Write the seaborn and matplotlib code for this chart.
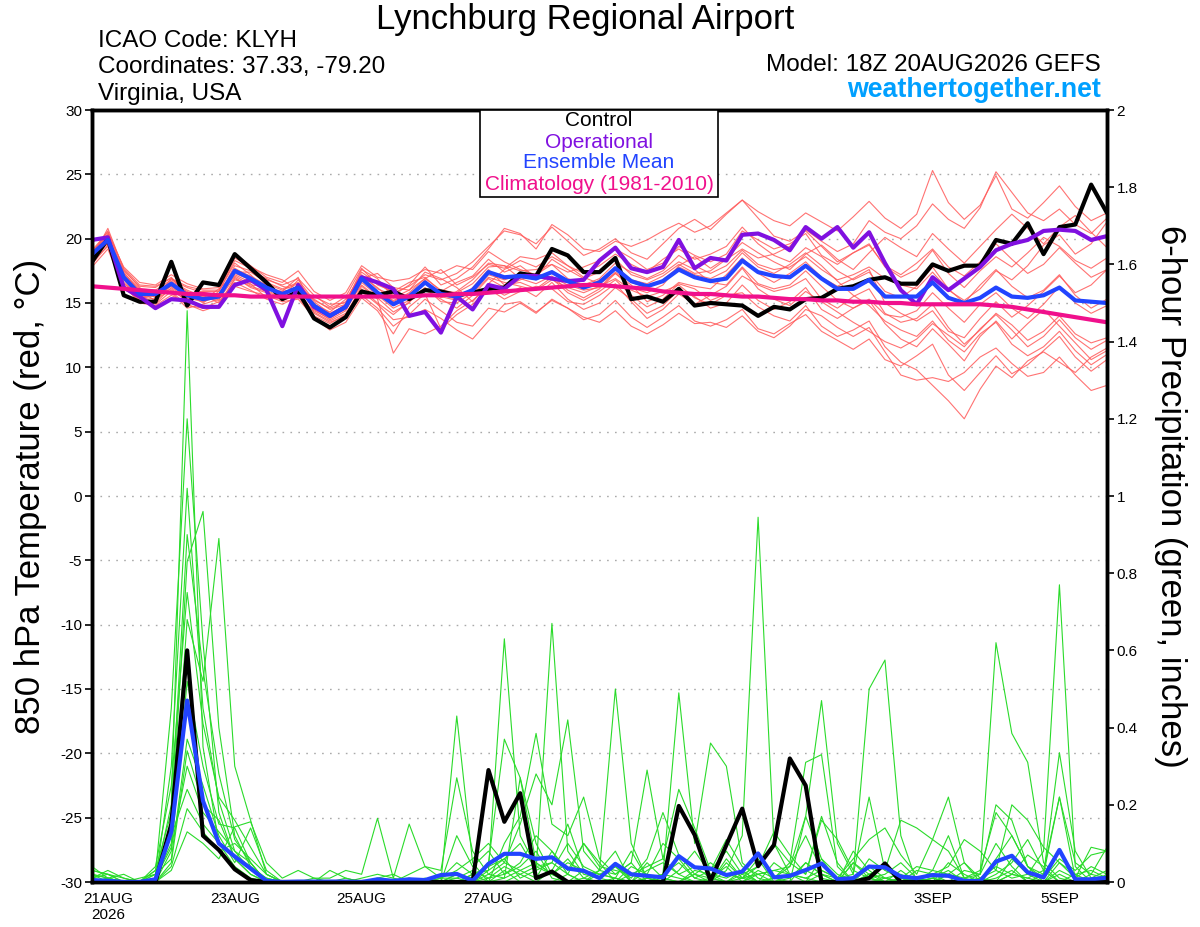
import numpy as np
import pandas as pd
import seaborn as sns
import matplotlib.pyplot as plt
from matplotlib.patches import Rectangle

sns.set_style("ticks")
plt.rcParams["font.family"] = ["Liberation Sans", "DejaVu Sans"]
plt.rcParams["axes.unicode_minus"] = False
plt.rcParams["text.color"] = "black"
plt.rcParams["xtick.color"] = "black"
plt.rcParams["ytick.color"] = "black"

# 6-hourly steps of the 18Z 20AUG2026 run
times = pd.date_range("2026-08-20 18:00", periods=65, freq="6h")

tick_dates = pd.to_datetime(["2026-08-21", "2026-08-23", "2026-08-25", "2026-08-27",
                             "2026-08-29", "2026-09-01", "2026-09-03", "2026-09-05"])
tick_labels = ["21AUG\n2026", "23AUG", "25AUG", "27AUG", "29AUG", "1SEP", "3SEP", "5SEP"]

# 850 hPa temperature (C)
control_temp = [18.2, 20.0, 15.6, 15.1, 15.1, 18.2, 14.8, 16.6, 16.4, 18.8, 17.7, 16.6, 15.3,
                15.9, 13.8, 13.1, 13.9, 15.9, 15.6, 15.9, 15.3, 16.0, 15.9, 15.6, 15.8, 16.1,
                16.2, 17.3, 17.1, 19.2, 18.7, 17.4, 17.4, 18.5, 15.3, 15.5, 15.1, 16.1, 14.8,
                15.0, 14.9, 14.8, 14.0, 14.7, 14.5, 15.3, 15.4, 16.1, 16.3, 16.8, 17.0, 16.5,
                16.5, 18.0, 17.5, 17.9, 17.9, 19.9, 19.6, 21.2, 18.8, 20.9, 21.1, 24.2, 22.0]
oper_temp = [19.9, 20.1, 16.2, 15.5, 14.6, 15.3, 15.2, 14.7, 14.7, 16.4, 16.8, 16.0, 13.2,
             16.4, 14.7, 14.0, 14.7, 17.0, 16.6, 16.1, 14.0, 14.3, 12.7, 15.5, 14.5, 16.4,
             16.1, 17.1, 17.1, 16.9, 16.7, 16.8, 18.3, 19.3, 17.7, 17.4, 17.8, 19.9, 17.7,
             18.5, 18.3, 20.3, 20.4, 19.9, 19.1, 20.9, 20.0, 20.9, 19.3, 20.5, 18.1, 16.0,
             14.9, 17.0, 16.0, 16.9, 17.8, 19.1, 19.6, 19.9, 20.6, 20.7, 20.6, 19.9, 20.2]
mean_temp = [18.8, 19.9, 17.0, 15.7, 15.7, 16.5, 15.6, 15.3, 15.5, 17.5, 16.9, 16.2, 15.7,
             16.2, 14.8, 14.0, 14.7, 16.9, 15.8, 14.9, 15.5, 16.6, 15.7, 15.5, 16.0, 17.4,
             17.0, 17.1, 16.9, 17.4, 16.7, 16.2, 16.6, 17.7, 16.7, 16.3, 16.7, 17.6, 17.0,
             16.7, 16.9, 18.3, 17.4, 17.1, 17.0, 17.9, 16.9, 16.1, 16.1, 16.8, 15.5, 15.5,
             15.5, 16.6, 15.4, 15.0, 15.4, 16.2, 15.5, 15.4, 15.6, 16.2, 15.2, 15.1, 15.0]
clim_temp = [16.3, 16.2, 16.1, 16.0, 15.9, 15.8, 15.7, 15.7, 15.6, 15.6, 15.5, 15.5, 15.5,
             15.5, 15.5, 15.5, 15.5, 15.5, 15.5, 15.5, 15.5, 15.6, 15.6, 15.7, 15.7, 15.8,
             15.9, 16.0, 16.1, 16.2, 16.3, 16.4, 16.4, 16.3, 16.2, 16.1, 15.9, 15.8, 15.7,
             15.7, 15.6, 15.5, 15.5, 15.4, 15.3, 15.3, 15.2, 15.2, 15.1, 15.1, 15.0, 15.0,
             14.9, 14.9, 14.9, 14.9, 14.9, 14.8, 14.7, 14.5, 14.3, 14.1, 13.9, 13.7, 13.5]

red_members = [
    [18.5, 20.8, 17.6, 16.2, 15.4, 16.9, 15.8, 15.0, 15.9, 18.1, 17.2, 16.0, 15.4,
     16.8, 15.2, 14.6, 15.1, 17.4, 16.5, 15.8, 16.3, 17.2, 16.8, 17.3, 18.2, 19.4,
     20.6, 20.3, 19.6, 20.9, 19.8, 18.7, 19.2, 20.0, 18.9, 18.4, 19.6, 20.8, 21.5,
     20.7, 21.9, 23.0, 22.1, 21.4, 21.0, 22.0, 21.3, 20.6, 21.7, 22.9, 21.6, 20.8,
     21.9, 25.3, 22.8, 21.5, 22.6, 24.9, 22.3, 21.6, 22.8, 24.1, 22.5, 21.4, 22.0],
    [18.0, 19.5, 16.4, 15.0, 14.8, 15.6, 14.9, 14.4, 14.8, 16.3, 15.9, 15.6, 15.1,
     15.3, 13.9, 13.1, 13.8, 15.6, 14.6, 13.2, 14.1, 15.3, 14.4, 13.5, 13.2, 14.6,
     14.3, 15.0, 14.2, 15.3, 14.6, 13.7, 14.1, 15.2, 13.9, 13.1, 13.9, 14.8, 13.6,
     13.2, 13.7, 14.5, 13.0, 12.6, 13.4, 14.1, 12.8, 12.1, 11.4, 12.2, 10.6, 10.1,
     10.9, 11.8, 9.4, 8.2, 9.6, 10.9, 9.5, 10.2, 11.3, 12.4, 10.8, 9.7, 10.6],
    [18.9, 20.2, 17.3, 16.1, 16.0, 16.8, 16.2, 15.8, 15.6, 17.9, 17.5, 16.9, 16.3,
     16.0, 15.5, 14.9, 15.0, 17.6, 16.9, 15.4, 16.0, 17.4, 16.9, 16.2, 15.1, 16.5,
     17.6, 18.3, 17.8, 18.6, 17.9, 17.0, 16.5, 17.3, 16.2, 15.8, 16.4, 17.9, 18.6,
     17.7, 18.5, 19.7, 18.9, 18.2, 17.6, 18.8, 19.5, 18.4, 17.6, 18.9, 20.1, 19.3,
     18.6, 20.4, 19.2, 18.1, 19.4, 20.7, 21.9, 20.8, 19.6, 20.9, 21.8, 20.5, 19.3],
    [18.3, 19.8, 16.8, 15.4, 15.6, 16.1, 15.1, 15.6, 15.0, 16.8, 16.5, 15.4, 15.9,
     17.0, 14.2, 13.5, 14.0, 16.1, 15.0, 14.1, 15.1, 16.0, 15.3, 14.6, 15.6, 16.9,
     16.2, 16.8, 17.3, 16.9, 15.8, 15.2, 15.9, 16.8, 15.6, 14.7, 15.3, 16.5, 16.1,
     15.2, 15.7, 17.1, 16.4, 15.9, 16.2, 16.9, 15.3, 14.6, 15.5, 16.1, 14.2, 13.5,
     13.8, 14.9, 13.1, 11.8, 12.9, 14.2, 13.3, 12.1, 12.8, 14.0, 12.6, 11.9, 12.3],
    [19.1, 20.5, 17.4, 15.9, 15.2, 16.4, 15.5, 15.2, 16.1, 17.2, 16.6, 16.5, 16.0,
     16.5, 14.5, 13.7, 14.4, 16.6, 15.6, 14.6, 15.2, 16.2, 15.1, 15.0, 15.8, 17.0,
     16.6, 16.3, 16.0, 16.8, 16.2, 15.8, 16.3, 16.9, 16.0, 15.5, 15.9, 16.4, 15.4,
     14.9, 15.6, 15.8, 14.7, 14.0, 13.6, 14.8, 13.2, 12.4, 12.9, 13.6, 11.6, 10.4,
     9.8, 8.6, 7.4, 6.0, 8.3, 10.1, 9.2, 10.5, 11.2, 10.4, 9.6, 10.8, 11.5],
    [18.6, 20.4, 17.8, 16.6, 16.4, 17.2, 16.5, 16.1, 16.2, 18.8, 17.9, 17.0, 16.6,
     17.5, 15.9, 15.2, 15.8, 17.9, 17.0, 16.7, 16.9, 17.6, 17.3, 17.9, 17.6, 19.0,
     18.2, 17.6, 17.2, 18.0, 17.4, 17.8, 18.3, 19.2, 18.5, 17.6, 18.1, 19.4, 18.7,
     18.2, 18.8, 20.6, 19.9, 19.2, 19.6, 20.4, 18.7, 18.0, 18.9, 19.6, 17.8, 17.0,
     17.6, 19.1, 17.3, 16.2, 17.5, 18.6, 17.8, 18.9, 20.1, 19.4, 18.3, 17.7, 18.5],
    [17.8, 19.2, 16.1, 15.3, 15.9, 15.8, 14.6, 14.9, 15.3, 17.0, 16.2, 15.8, 15.2,
     15.6, 14.0, 13.4, 14.1, 16.3, 15.3, 11.1, 13.0, 12.6, 13.2, 14.4, 15.2, 16.3,
     15.6, 16.2, 15.5, 16.6, 15.3, 14.5, 15.0, 16.2, 15.3, 14.2, 14.8, 16.0, 15.5,
     14.6, 15.0, 16.4, 15.2, 14.5, 15.1, 16.2, 14.5, 13.8, 14.6, 15.2, 13.4, 12.2,
     11.6, 13.0, 11.8, 10.5, 12.4, 13.6, 12.2, 13.4, 14.5, 13.2, 11.9, 10.6, 11.3],
    [18.4, 20.0, 17.1, 15.8, 15.6, 16.6, 15.9, 15.4, 15.2, 17.6, 17.1, 16.4, 15.6,
     16.2, 14.9, 14.3, 15.3, 17.2, 16.1, 15.6, 16.4, 17.8, 16.4, 16.9, 17.8, 19.2,
     20.8, 20.4, 19.2, 21.1, 20.3, 19.2, 19.0, 19.8, 19.4, 19.9, 20.6, 21.2, 20.5,
     21.0, 22.0, 23.0, 21.6, 20.2, 19.8, 20.6, 19.4, 18.2, 18.9, 19.5, 17.9, 17.2,
     18.1, 19.2, 17.8, 17.1, 18.2, 19.6, 18.4, 17.3, 18.0, 19.3, 18.1, 17.0, 17.6],
    [18.7, 19.6, 16.6, 15.5, 15.3, 16.0, 15.2, 14.7, 14.8, 16.9, 16.3, 15.9, 15.3,
     15.8, 14.3, 13.6, 14.2, 15.9, 14.9, 13.7, 13.9, 14.5, 13.8, 12.9, 12.2, 13.6,
     14.9, 15.1, 14.3, 15.2, 14.6, 13.9, 13.5, 14.4, 13.2, 12.6, 13.3, 14.2, 13.4,
     13.5, 13.1, 14.0, 12.8, 12.3, 13.2, 14.5, 14.0, 13.1, 12.4, 13.1, 11.2, 9.4,
     9.0, 9.2, 8.9, 9.6, 10.8, 11.5, 10.3, 9.3, 9.6, 10.8, 9.4, 8.2, 8.6],
    [19.0, 20.3, 17.2, 16.0, 15.8, 16.7, 16.0, 15.5, 15.7, 17.4, 17.4, 16.6, 16.1,
     16.6, 15.1, 14.2, 14.8, 17.1, 16.2, 15.1, 15.8, 16.9, 16.0, 15.8, 16.5, 17.8,
     17.9, 17.5, 17.6, 18.0, 16.9, 16.4, 16.9, 18.1, 17.4, 16.9, 17.5, 18.7, 17.9,
     17.3, 17.9, 19.1, 18.0, 17.6, 17.8, 18.6, 17.6, 16.8, 17.2, 17.8, 16.9, 16.4,
     16.1, 17.4, 16.0, 15.2, 16.1, 17.5, 16.8, 17.9, 19.5, 20.3, 18.8, 19.6, 21.3],
    [18.1, 19.7, 16.9, 15.6, 15.5, 16.3, 15.4, 15.1, 15.5, 17.3, 16.8, 16.1, 15.8,
     16.3, 14.6, 13.9, 14.5, 16.8, 15.7, 14.8, 15.4, 16.5, 15.6, 15.3, 15.9, 17.2,
     16.8, 17.2, 16.8, 17.5, 16.6, 16.1, 16.8, 17.6, 16.8, 16.5, 17.1, 18.0, 17.3,
     17.5, 18.4, 19.2, 18.5, 18.8, 19.4, 20.7, 19.8, 19.0, 19.6, 21.4, 20.5, 20.0,
     21.0, 22.7, 21.5, 20.8, 22.4, 25.2, 23.6, 22.0, 21.4, 22.3, 21.1, 20.4, 21.6],
    [18.5, 20.1, 17.5, 16.3, 16.2, 17.0, 15.7, 15.9, 15.9, 18.3, 17.7, 16.8, 16.4,
     16.9, 15.6, 14.7, 15.5, 17.7, 16.4, 15.9, 16.6, 17.0, 15.9, 16.6, 17.1, 18.4,
     17.4, 17.9, 17.0, 18.4, 17.6, 16.9, 17.4, 18.4, 17.2, 16.8, 17.3, 18.2, 17.6,
     16.6, 16.4, 17.8, 16.5, 16.1, 16.4, 17.5, 16.3, 15.2, 14.6, 15.3, 14.1, 13.9,
     14.4, 15.8, 14.6, 13.5, 14.9, 15.8, 14.6, 13.8, 14.9, 16.3, 15.0, 14.2, 14.8],
    [18.2, 19.4, 16.2, 15.2, 14.9, 15.9, 14.8, 14.6, 15.1, 16.6, 16.0, 15.3, 14.9,
     15.5, 13.8, 12.9, 13.5, 15.4, 14.4, 12.6, 14.7, 15.7, 13.0, 14.1, 14.9, 16.1,
     15.3, 15.9, 16.3, 16.1, 15.1, 14.9, 15.6, 16.5, 15.1, 13.8, 14.5, 15.7, 14.9,
     15.6, 16.3, 17.7, 16.1, 15.3, 14.8, 15.9, 15.1, 14.3, 13.5, 12.8, 12.0, 11.5,
     12.2, 13.4, 12.5, 11.6, 13.0, 14.1, 12.9, 11.6, 12.4, 13.7, 12.3, 11.4, 12.1],
    [18.9, 20.6, 17.7, 16.4, 16.3, 16.9, 16.3, 16.0, 16.0, 18.5, 17.8, 17.2, 16.8,
     16.0, 15.3, 14.5, 14.9, 16.9, 17.3, 16.2, 16.0, 16.9, 17.6, 16.4, 17.0, 18.0,
     17.7, 18.6, 18.4, 18.9, 17.9, 17.3, 17.9, 18.8, 18.0, 17.4, 18.4, 19.2, 18.4,
     18.8, 19.4, 20.9, 19.6, 18.7, 18.2, 19.3, 18.6, 17.5, 16.8, 17.4, 15.9, 15.4,
     16.3, 17.8, 16.1, 15.0, 16.4, 17.6, 16.3, 15.4, 16.0, 17.2, 15.6, 14.6, 15.3],
    [18.6, 20.2, 16.5, 15.6, 15.0, 16.2, 15.3, 15.3, 15.6, 17.1, 16.4, 16.3, 15.5,
     16.4, 14.4, 13.8, 14.6, 16.4, 15.4, 14.3, 15.0, 16.8, 15.4, 15.9, 16.8, 18.1,
     17.9, 16.9, 16.5, 17.1, 16.0, 15.4, 16.1, 17.3, 16.4, 15.1, 15.6, 16.6, 16.3,
     16.1, 17.2, 18.5, 17.3, 16.6, 17.3, 18.2, 17.0, 16.3, 16.9, 17.6, 15.0, 14.2,
     13.6, 14.4, 12.8, 12.3, 13.8, 15.1, 13.9, 14.8, 15.9, 17.1, 15.8, 16.4, 17.6],
    [18.4, 19.9, 17.0, 15.9, 15.7, 16.6, 15.4, 15.4, 15.4, 17.7, 17.0, 16.2, 15.9,
     16.1, 14.7, 14.1, 14.9, 17.0, 15.9, 15.2, 15.7, 16.7, 15.5, 15.2, 16.2, 17.6,
     16.4, 16.6, 16.1, 17.0, 16.4, 16.0, 16.2, 17.4, 16.6, 16.2, 16.8, 17.8, 17.2,
     16.9, 17.5, 18.9, 17.8, 17.3, 18.0, 18.9, 17.9, 16.7, 15.6, 14.8, 13.6, 12.9,
     12.4, 13.6, 12.1, 11.2, 12.6, 13.5, 11.8, 10.9, 11.6, 12.8, 11.3, 10.2, 11.0],
]

# 6-hour precipitation (inches)
control_precip = [0, 0, 0, 0, 0, 0.15, 0.60, 0.12, 0.083, 0.033, 0.005, 0, 0,
                  0, 0, 0, 0, 0, 0, 0, 0, 0, 0, 0, 0, 0.29,
                  0.156, 0.23, 0.01, 0.027, 0, 0, 0, 0, 0, 0, 0, 0.197, 0.122,
                  0.003, 0.096, 0.19, 0.041, 0.096, 0.32, 0.25, 0, 0, 0, 0.01, 0.048, 0,
                  0, 0, 0, 0, 0, 0, 0, 0, 0, 0, 0, 0, 0]
mean_precip = [0.005, 0.003, 0, 0, 0.007, 0.13, 0.47, 0.21, 0.10, 0.066, 0.035, 0.003, 0,
               0.001, 0.001, 0.001, 0.001, 0, 0.007, 0.003, 0.007, 0.005, 0.018, 0.021, 0.003, 0.047,
               0.073, 0.073, 0.06, 0.064, 0.035, 0.029, 0.01, 0.047, 0.02, 0.016, 0.012, 0.067, 0.038,
               0.035, 0.018, 0.027, 0.074, 0.012, 0.016, 0.031, 0.048, 0.007, 0.01, 0.04, 0.038, 0.014,
               0.01, 0.018, 0.016, 0.003, 0.002, 0.053, 0.068, 0.025, 0.012, 0.083, 0.007, 0.007, 0.011]

green_members = [
    [0.02, 0.01, 0, 0, 0.01, 0.20, 1.48, 0.35, 0.10, 0.04, 0.01, 0, 0,
     0, 0, 0, 0, 0, 0, 0, 0, 0, 0, 0, 0, 0.02,
     0.05, 0.03, 0.01, 0.08, 0.02, 0, 0, 0.01, 0, 0, 0.02, 0.05, 0.01,
     0, 0, 0.03, 0, 0, 0.01, 0.05, 0.02, 0, 0, 0, 0.01, 0,
     0, 0, 0.02, 0.05, 0.01, 0, 0, 0, 0, 0.03, 0.01, 0, 0],
    [0.04, 0.01, 0, 0, 0.02, 0.45, 1.20, 0.62, 0.18, 0.06, 0.02, 0, 0,
     0, 0, 0, 0, 0, 0, 0, 0, 0, 0, 0.43, 0.05, 0,
     0.03, 0, 0, 0, 0.02, 0.10, 0.05, 0, 0, 0.01, 0, 0, 0.03,
     0.02, 0, 0, 0, 0.01, 0.04, 0.17, 0.06, 0, 0, 0.01, 0, 0,
     0, 0.01, 0, 0, 0, 0, 0.02, 0.07, 0.04, 0, 0, 0.02, 0.01],
    [0.01, 0.02, 0, 0, 0, 0.30, 1.02, 0.45, 0.21, 0.08, 0.03, 0.01, 0,
     0, 0, 0, 0, 0, 0, 0, 0, 0, 0.01, 0.05, 0.02, 0.03,
     0.63, 0.12, 0.04, 0.02, 0.06, 0.01, 0, 0, 0.02, 0, 0.01, 0, 0,
     0, 0.05, 0.01, 0, 0, 0, 0, 0.02, 0, 0.08, 0.03, 0, 0,
     0.01, 0, 0, 0.03, 0.02, 0.10, 0.04, 0, 0, 0, 0.02, 0, 0],
    [0, 0, 0, 0, 0.03, 0.14, 0.83, 0.96, 0.40, 0.12, 0.04, 0, 0,
     0, 0, 0.03, 0.01, 0, 0, 0, 0, 0, 0, 0, 0.02, 0.04,
     0.06, 0.10, 0.03, 0.67, 0.08, 0.02, 0.01, 0.05, 0, 0, 0, 0, 0.02,
     0, 0, 0.01, 0.06, 0, 0, 0, 0, 0, 0.05, 0.01, 0, 0,
     0.03, 0.02, 0, 0, 0.01, 0, 0.06, 0.02, 0, 0, 0, 0.01, 0],
    [0, 0, 0, 0, 0.01, 0.10, 0.68, 0.52, 0.89, 0.30, 0.16, 0.02, 0,
     0, 0, 0, 0, 0, 0, 0, 0, 0, 0, 0.02, 0, 0.01,
     0.04, 0.02, 0, 0.03, 0.10, 0.04, 0.02, 0.01, 0, 0.05, 0.01, 0, 0,
     0, 0.03, 0.12, 0.945, 0.10, 0.02, 0.01, 0, 0, 0, 0.02, 0.04, 0.01,
     0, 0, 0, 0, 0, 0.02, 0.05, 0.11, 0.03, 0, 0, 0, 0.01],
    [0.03, 0.02, 0.01, 0, 0, 0.08, 0.52, 0.30, 0.15, 0.14, 0.05, 0, 0,
     0, 0, 0, 0, 0, 0, 0, 0.01, 0, 0, 0.01, 0.03, 0.01,
     0.02, 0.04, 0.08, 0.01, 0, 0.01, 0.03, 0.02, 0.05, 0, 0.02, 0.01, 0,
     0.01, 0.04, 0, 0.02, 0, 0, 0.17, 0.47, 0.10, 0.02, 0.50, 0.575, 0.12,
     0, 0.01, 0.03, 0, 0.01, 0.04, 0.02, 0.01, 0, 0.05, 0.02, 0.03, 0.01],
    [0, 0.01, 0, 0, 0.02, 0.06, 0.37, 0.25, 0.12, 0.05, 0.14, 0.03, 0,
     0, 0, 0, 0, 0, 0, 0, 0, 0, 0, 0, 0, 0,
     0.01, 0.03, 0.05, 0.02, 0, 0, 0.02, 0.01, 0.08, 0.01, 0, 0, 0.02,
     0.01, 0, 0, 0.03, 0.01, 0, 0.05, 0.02, 0.01, 0, 0.01, 0, 0.03,
     0, 0.01, 0, 0, 0.02, 0.62, 0.385, 0.31, 0.05, 0.01, 0, 0, 0],
    [0.01, 0, 0, 0, 0, 0.05, 0.34, 0.20, 0.16, 0.06, 0.02, 0, 0,
     0, 0.01, 0, 0, 0, 0, 0, 0, 0, 0, 0.02, 0.01, 0.05,
     0.37, 0.27, 0.10, 0.02, 0.05, 0.03, 0.01, 0.04, 0, 0.03, 0.05, 0.02, 0,
     0, 0.06, 0.01, 0.02, 0.03, 0.02, 0, 0.06, 0.02, 0, 0.04, 0.01, 0.02,
     0, 0.03, 0.02, 0, 0.01, 0.03, 0.01, 0.02, 0.08, 0.77, 0.04, 0, 0.01],
    [0, 0, 0, 0.01, 0.02, 0.12, 0.24, 0.15, 0.10, 0.07, 0.04, 0.01, 0,
     0, 0, 0, 0, 0.01, 0.02, 0.01, 0, 0, 0, 0, 0, 0,
     0, 0.02, 0.04, 0.05, 0.02, 0, 0.03, 0.08, 0, 0.01, 0.02, 0.49, 0.10,
     0.36, 0.30, 0.05, 0.01, 0, 0.02, 0.03, 0.01, 0, 0.05, 0.02, 0.01, 0,
     0.01, 0, 0.02, 0.01, 0, 0.06, 0.12, 0.04, 0, 0.02, 0, 0, 0.02],
    [0.02, 0, 0, 0, 0.01, 0.09, 0.30, 0.18, 0.13, 0.08, 0.05, 0, 0,
     0, 0, 0, 0, 0, 0, 0, 0, 0, 0.01, 0.03, 0.06, 0.10,
     0.05, 0.15, 0.28, 0.20, 0.42, 0.08, 0.03, 0.50, 0.10, 0.01, 0, 0.03, 0.08,
     0.02, 0.01, 0.03, 0, 0.01, 0.05, 0.31, 0.33, 0.04, 0, 0.02, 0, 0.01,
     0, 0, 0.05, 0.02, 0, 0.01, 0.03, 0, 0.02, 0.22, 0.01, 0.09, 0.08],
    [0, 0.01, 0.02, 0, 0, 0.04, 0.19, 0.13, 0.08, 0.10, 0.06, 0.02, 0,
     0, 0, 0, 0, 0, 0.01, 0.02, 0, 0, 0, 0, 0.02, 0,
     0.10, 0.17, 0.385, 0.15, 0.12, 0.22, 0.06, 0.02, 0.05, 0.29, 0.06, 0.02, 0.04,
     0.01, 0, 0.02, 0.04, 0.10, 0.05, 0.02, 0.17, 0.05, 0, 0.06, 0.03, 0.16,
     0.14, 0.11, 0.22, 0.05, 0, 0, 0.02, 0.01, 0.03, 0.22, 0.05, 0.02, 0.09],
    [0.03, 0.02, 0, 0, 0, 0.03, 0.13, 0.10, 0.06, 0.143, 0.156, 0.05, 0.01,
     0.03, 0.01, 0.01, 0.03, 0.02, 0.165, 0.01, 0.15, 0.04, 0.03, 0.27, 0.08, 0.02,
     0.01, 0.27, 0.05, 0.02, 0, 0.03, 0.01, 0, 0.04, 0.02, 0.10, 0.06, 0.01,
     0.03, 0.08, 0.02, 0, 0.05, 0.02, 0.01, 0.03, 0.01, 0.02, 0.22, 0.03, 0.01,
     0.04, 0.03, 0.12, 0.01, 0.02, 0.20, 0.16, 0.04, 0.02, 0.335, 0.08, 0.01, 0.03],
    [0.01, 0.03, 0.01, 0, 0.04, 0.25, 0.75, 0.41, 0.22, 0.16, 0.09, 0.02, 0,
     0, 0, 0, 0.01, 0, 0, 0, 0.02, 0.04, 0.01, 0.01, 0, 0.03,
     0.06, 0.01, 0.03, 0.05, 0.15, 0.03, 0.02, 0.04, 0.01, 0.06, 0.18, 0.07, 0.02,
     0.05, 0.02, 0.01, 0.04, 0.13, 0.07, 0.02, 0.16, 0.11, 0.03, 0.01, 0.02, 0.05,
     0.01, 0.02, 0.04, 0.11, 0.08, 0.03, 0.20, 0.16, 0.09, 0.05, 0.01, 0.04, 0.02],
    [0.02, 0.01, 0, 0, 0.03, 0.18, 0.90, 0.55, 0.28, 0.11, 0.05, 0, 0,
     0, 0, 0, 0, 0, 0, 0, 0, 0.01, 0, 0.12, 0.04, 0.08,
     0.02, 0.05, 0.12, 0.08, 0.03, 0.10, 0.04, 0.03, 0.02, 0.04, 0.06, 0.24, 0.14,
     0.03, 0.11, 0.04, 0.02, 0.03, 0.04, 0.12, 0.03, 0.01, 0.06, 0.11, 0.14, 0.07,
     0.02, 0.11, 0.08, 0.01, 0.03, 0.18, 0.12, 0.04, 0.01, 0.06, 0.03, 0.07, 0.08],
]

temp_ticks = list(range(-30, 31, 5))
precip_ticks = [0, 0.2, 0.4, 0.6, 0.8, 1.0, 1.2, 1.4, 1.6, 1.8, 2.0]
precip_labels = ["0", "0.2", "0.4", "0.6", "0.8", "1", "1.2", "1.4", "1.6", "1.8", "2"]

red_df = pd.concat([pd.DataFrame({"time": times, "temp": m, "member": k})
                    for k, m in enumerate(red_members)], ignore_index=True)
green_df = pd.concat([pd.DataFrame({"time": times, "precip": m, "member": k})
                      for k, m in enumerate(green_members)], ignore_index=True)

fig = plt.figure(figsize=(12, 9.27), dpi=100)
ax = fig.add_axes([92 / 1200, 1 - 882 / 927, 1015 / 1200, 772 / 927])
ax2 = ax.twinx()

# temperature (left axis)
sns.lineplot(data=red_df, x="time", y="temp", units="member", estimator=None,
             color="#FF5A5A", linewidth=0.8, alpha=0.85, ax=ax, legend=False)
sns.lineplot(x=times, y=control_temp, color="black", linewidth=3, ax=ax)
sns.lineplot(x=times, y=oper_temp, color="#8010E0", linewidth=3, ax=ax)
sns.lineplot(x=times, y=mean_temp, color="#2244FF", linewidth=3, ax=ax)
sns.lineplot(x=times, y=clim_temp, color="#F0108C", linewidth=3, ax=ax)

# precipitation (right axis)
sns.lineplot(data=green_df, x="time", y="precip", units="member", estimator=None,
             color="#2ADB2A", linewidth=0.8, ax=ax2, legend=False)
sns.lineplot(x=times, y=control_precip, color="black", linewidth=3, ax=ax2)
sns.lineplot(x=times, y=mean_precip, color="#2244FF", linewidth=3, ax=ax2)

ax.set_xlim(times[0], times[-1])
ax.set_ylim(-30, 30)
ax.set_yticks(temp_ticks)
ax.set_yticklabels([str(t) for t in temp_ticks])
ax2.set_ylim(0, 2)
ax2.set_yticks(precip_ticks)
ax2.set_yticklabels(precip_labels)
ax.set_xticks(tick_dates)
ax.set_xticklabels(tick_labels)
for a in (ax, ax2):
    a.set_xlabel("")
    a.set_ylabel("")
    for s in a.spines.values():
        s.set_linewidth(2.5)
        s.set_color("black")

ax.yaxis.grid(True, color="#AAAAAA", linestyle=(0, (1.2, 4.5)), linewidth=1)
ax.xaxis.grid(False)
ax.tick_params(axis="x", length=0, pad=7, labelsize=11, labelcolor="black")
ax.tick_params(axis="y", length=5, width=1.2, pad=2, labelsize=11, labelcolor="black", color="black")
ax2.tick_params(axis="y", length=5, width=1.2, pad=2, labelsize=11, labelcolor="black", color="black")

# header texts
fig.text(585 / 1200, 1 - 29 / 927, "Lynchburg Regional Airport", ha="center", va="baseline",
         fontsize=25, color="black")
fig.text(98 / 1200, 1 - 47 / 927, "ICAO Code: KLYH", ha="left", va="baseline", fontsize=17.5, color="black")
fig.text(98 / 1200, 1 - 73 / 927, "Coordinates: 37.33, -79.20", ha="left", va="baseline",
         fontsize=17.5, color="black")
fig.text(98 / 1200, 1 - 100 / 927, "Virginia, USA", ha="left", va="baseline", fontsize=17.5, color="black")
fig.text(1101 / 1200, 1 - 71 / 927, "Model: 18Z 20AUG2026 GEFS", ha="right", va="baseline",
         fontsize=17.5, color="black")
fig.text(1101 / 1200, 1 - 97 / 927, "weathertogether.net", ha="right", va="baseline",
         fontsize=19.3, fontweight="bold", color="#00A0FF")

fig.text(31 / 1200, 1 - 496 / 927, "850 hPa Temperature (red, °C)", rotation=90,
         ha="center", va="center", fontsize=25, color="black")
fig.text(1170 / 1200, 1 - 496 / 927, "6-hour Precipitation (green, inches)", rotation=270,
         ha="center", va="center", fontsize=25, color="black")

# legend box
fig.add_artist(Rectangle((480 / 1200, 1 - 197 / 927), 238 / 1200, 87 / 927, transform=fig.transFigure,
                         facecolor="white", edgecolor="black", linewidth=1.2, zorder=5))
legend_items = [("Control", "black", 121), ("Operational", "#8010E0", 142),
                ("Ensemble Mean", "#2244FF", 163), ("Climatology (1981-2010)", "#F0108C", 185)]
for label, col, ypix in legend_items:
    fig.text(599 / 1200, 1 - ypix / 927, label, ha="center", va="center", color=col,
             fontsize=15, zorder=6)

fig.savefig("out.png", dpi=100)
